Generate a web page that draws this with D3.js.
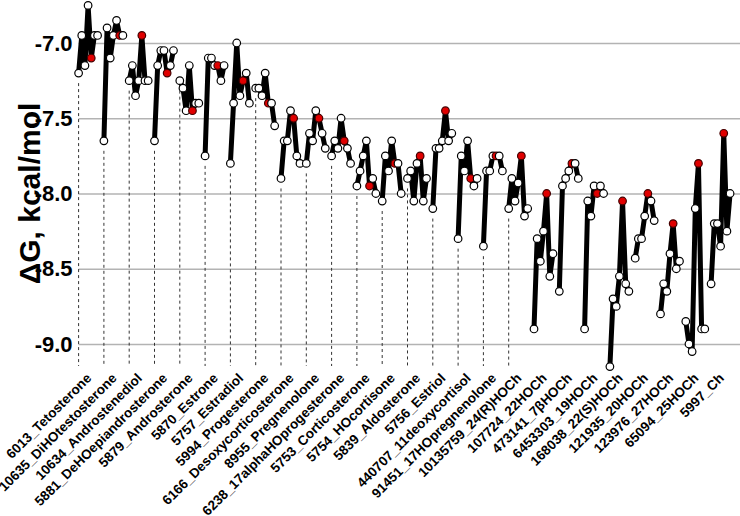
<!DOCTYPE html>
<html>
<head>
<meta charset="utf-8">
<script src="https://cdn.jsdelivr.net/npm/d3@7"></script>
<style>
  html, body { margin: 0; padding: 0; background: #fff; }
  svg { display: block; font-family: "Liberation Sans", Arial, sans-serif; }
</style>
</head>
<body>
<svg id="chart" width="740" height="516"></svg>
<script>
const categories = [
  "6013_Tetosterone", "10635_DiHOtestosterone", "10634_Androstenediol",
  "5881_DeHOepiandrosterone", "5879_Androsterone", "5870_Estrone",
  "5757_Estradiol", "5994_Progesterone", "6166_Desoxycorticosterone",
  "8955_Pregnenolone", "6238_17alphaHOprogesterone", "5753_Corticosterone",
  "5754_HOcortisone", "5839_Aldosterone", "5756_Estriol",
  "440707_11deoxycortisol", "91451_17HOpregnenolone", "10135759_24(R)HOCh",
  "107724_22HOCh", "473141_7βHOCh", "6453303_19HOCh", "168038_22(S)HOCh",
  "121935_20HOCh", "123976_27HOCh", "65094_25HOCh", "5997_Ch"
];

// ΔG values (kcal/mol), 7 docking poses per ligand
const dG = [
  [-7.20, -6.95, -7.15, -6.75, -7.10, -6.95, -6.95],
  [-7.65, -6.90, -7.10, -6.95, -6.85, -6.95, -6.95],
  [-7.25, -7.15, -7.35, -7.25, -6.95, -7.25, -7.25],
  [-7.65, -7.15, -7.05, -7.05, -7.20, -7.15, -7.05],
  [-7.25, -7.30, -7.45, -7.15, -7.45, -7.40, -7.40],
  [-7.75, -7.10, -7.10, -7.15, -7.15, -7.25, -7.15],
  [-7.80, -7.40, -7.00, -7.35, -7.25, -7.20, -7.40],
  [-7.30, -7.30, -7.35, -7.20, -7.40, -7.40, -7.55],
  [-7.90, -7.65, -7.65, -7.45, -7.50, -7.75, -7.80],
  [-7.80, -7.60, -7.65, -7.45, -7.50, -7.60, -7.70],
  [-7.75, -7.65, -7.70, -7.50, -7.65, -7.70, -7.80],
  [-7.95, -7.85, -7.75, -7.65, -7.95, -7.90, -8.00],
  [-8.05, -7.75, -7.85, -7.65, -7.80, -7.80, -8.00],
  [-7.90, -7.85, -8.05, -7.80, -7.75, -8.05, -7.90],
  [-8.10, -7.70, -7.70, -7.65, -7.45, -7.65, -7.60],
  [-8.30, -7.75, -7.85, -7.65, -7.90, -7.95, -7.90],
  [-8.35, -7.85, -7.85, -7.75, -7.75, -7.75, -7.85],
  [-8.10, -7.90, -8.05, -7.93, -7.75, -8.15, -8.10],
  [-8.90, -8.30, -8.45, -8.25, -8.00, -8.55, -8.40],
  [-8.65, -7.95, -7.90, -7.85, -7.80, -7.80, -7.90],
  [-8.90, -8.05, -8.15, -7.95, -8.00, -7.95, -8.00],
  [-9.15, -8.70, -8.75, -8.55, -8.05, -8.60, -8.65],
  [-8.43, -8.30, -8.30, -8.15, -8.00, -8.05, -8.18],
  [-8.80, -8.60, -8.65, -8.40, -8.20, -8.50, -8.45],
  [-8.85, -9.00, -9.05, -8.10, -7.80, -8.90, -8.90],
  [-8.60, -8.20, -8.20, -8.35, -7.60, -8.25, -8.00]
];

// index of the highlighted (red) pose in each ligand
const refPose = [4, 5, 4, 4, 4, 4, 4, 4, 4, 4, 4, 4, 4, 4, 4, 4, 4, 4, 4, 4, 4, 4, 4, 4, 4, 4];

// ligands that carry a dashed drop line
const dropLineCount = 18;

const yTicks = [-7.0, -7.5, -8.0, -8.5, -9.0];
const yTickLabels = ["-7.0", "-7.5", "-8.0", "-8.5", "-9.0"];
const yTitle = "ΔG, kcal/mol";

const svg = d3.select("#chart");
const W = 740, H = 516;
const left = 78.6, right = 736.4, bottom = 366;
const slotsPerGroup = 8;

const x = d3.scaleBand().domain(categories).range([left, right]).paddingInner(0).paddingOuter(0);
const slot = d3.scaleLinear().domain([0, slotsPerGroup]).range([0, x.bandwidth()]);
const y = d3.scaleLinear().domain([-9.0, -7.0]).range([344, 43]);

// gridlines + y labels
const yAxis = d3.axisLeft(y)
  .tickValues(yTicks)
  .tickFormat((d, i) => yTickLabels[i])
  .tickSize(-(W - left))
  .tickPadding(6);
const gy = svg.append("g").attr("transform", `translate(${left},0)`).call(yAxis);
gy.select(".domain").remove();
gy.selectAll(".tick line").attr("stroke", "#b3b3b3").attr("stroke-width", 1.5);
gy.selectAll(".tick text")
  .attr("fill", "#000")
  .style("font-size", "22px")
  .style("font-weight", "bold")
  .style("font-family", "'Liberation Sans', Arial, sans-serif");

// y title
svg.append("text")
  .attr("transform", `translate(40,${(43 + 344) / 2}) rotate(-90)`)
  .attr("text-anchor", "middle")
  .style("font-size", "30px")
  .style("font-weight", "bold")
  .text(yTitle);

// x axis labels
const xAxis = d3.axisBottom(x).tickSize(0).tickPadding(0);
const gx = svg.append("g").attr("transform", `translate(0,${bottom})`).call(xAxis);
gx.select(".domain").remove();
gx.selectAll(".tick text")
  .attr("x", 0).attr("y", 0).attr("dy", null)
  .attr("transform", "translate(1,13) rotate(-45)")
  .attr("text-anchor", "end")
  .attr("fill", "#000")
  .style("font-size", "13.5px")
  .style("font-weight", "bold")
  .style("font-family", "'Liberation Sans', Arial, sans-serif");

const px = (g, i) => x(categories[g]) + slot(i);

// dashed drop lines
svg.append("g").selectAll("line")
  .data(d3.range(dropLineCount))
  .join("line")
  .attr("x1", g => px(g, 0)).attr("x2", g => px(g, 0))
  .attr("y1", g => y(dG[g][0]) + 10).attr("y2", bottom)
  .attr("stroke", "#333").attr("stroke-width", 1)
  .attr("stroke-dasharray", "3,3");

// thick connecting lines
const line = d3.line().x(d => d[0]).y(d => d[1]);
svg.append("g").selectAll("path")
  .data(dG.map((vals, g) => vals.map((v, i) => [px(g, i), y(v)])))
  .join("path")
  .attr("d", line)
  .attr("fill", "none")
  .attr("stroke", "#000")
  .attr("stroke-width", 5)
  .attr("stroke-linejoin", "round");

// markers
const pts = [];
dG.forEach((vals, g) => vals.forEach((v, i) => pts.push({ g, i, v, ref: refPose[g] === i })));
svg.append("g").selectAll("circle")
  .data(pts)
  .join("circle")
  .attr("cx", d => px(d.g, d.i))
  .attr("cy", d => y(d.v))
  .attr("r", 3.8)
  .attr("fill", d => d.ref ? "#e00000" : "#fff")
  .attr("stroke", d => d.ref ? "#400" : "#000")
  .attr("stroke-width", 1.2);
</script>
</body>
</html>
